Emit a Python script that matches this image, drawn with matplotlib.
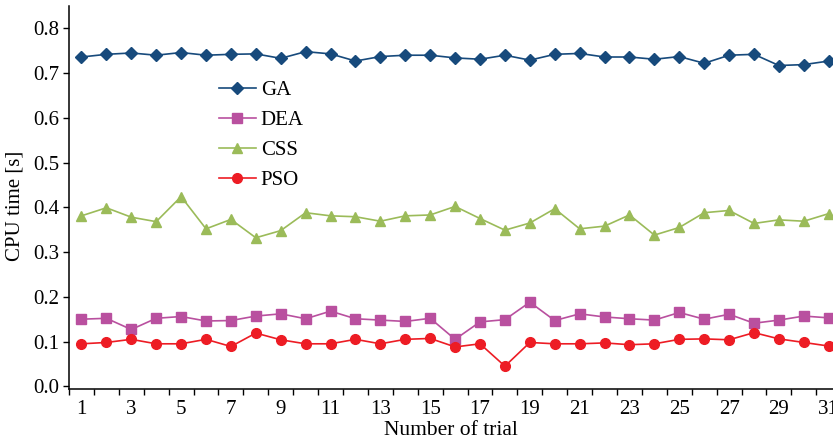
import matplotlib.pyplot as plt
from matplotlib.ticker import FixedLocator, NullFormatter

plt.rcParams["font.family"] = ["Liberation Serif", "DejaVu Serif"]

trials = list(range(1, 32))

ga = [0.736, 0.742, 0.745, 0.740, 0.746, 0.740, 0.742, 0.743, 0.733, 0.748,
      0.743, 0.727, 0.737, 0.740, 0.740, 0.734, 0.731, 0.740, 0.729, 0.742,
      0.744, 0.736, 0.736, 0.731, 0.737, 0.722, 0.740, 0.742, 0.717, 0.719,
      0.727]
dea = [0.150, 0.152, 0.127, 0.152, 0.156, 0.146, 0.147, 0.157, 0.162, 0.151,
       0.168, 0.151, 0.148, 0.145, 0.152, 0.105, 0.144, 0.149, 0.188, 0.147,
       0.162, 0.155, 0.151, 0.148, 0.165, 0.150, 0.161, 0.141, 0.148, 0.157,
       0.153]
css = [0.381, 0.399, 0.378, 0.368, 0.424, 0.352, 0.373, 0.332, 0.348, 0.388,
       0.381, 0.379, 0.369, 0.381, 0.383, 0.402, 0.375, 0.349, 0.365, 0.397,
       0.352, 0.358, 0.383, 0.338, 0.355, 0.388, 0.393, 0.364, 0.372, 0.369,
       0.386]
pso = [0.095, 0.098, 0.105, 0.095, 0.095, 0.105, 0.089, 0.119, 0.104, 0.095,
       0.095, 0.105, 0.095, 0.105, 0.107, 0.088, 0.095, 0.045, 0.098, 0.095,
       0.095, 0.097, 0.093, 0.095, 0.105, 0.106, 0.104, 0.120, 0.106, 0.098,
       0.090]

series = [
    ("GA", ga, "#174a7c", "D", 6.5),
    ("DEA", dea, "#b9509f", "s", 6.5),
    ("CSS", css, "#9bbb59", "^", 7.5),
    ("PSO", pso, "#ed1c24", "o", 7),
]

fig = plt.figure(figsize=(8.33, 4.4), dpi=100)
ax = fig.add_axes([69 / 833, 1 - 389 / 440, 764 / 833, 383 / 440])

for name, values, color, marker, ms in series:
    ax.plot(trials, values, color=color, marker=marker, markersize=ms,
            linewidth=1.2, label=name)

ax.set_xlim(0.5, 31.17)
ax.set_ylim(-0.006, 0.85)

ax.xaxis.set_major_locator(FixedLocator(list(range(1, 32, 2))))
ax.xaxis.set_minor_locator(FixedLocator([t + 0.5 for t in range(0, 31)]))
ax.xaxis.set_minor_formatter(NullFormatter())
ax.tick_params(axis="x", which="major", length=0, labelsize=15, pad=8)
ax.tick_params(axis="x", which="minor", length=4, width=1, direction="out")
ax.set_yticks([0.0, 0.1, 0.2, 0.3, 0.4, 0.5, 0.6, 0.7, 0.8])
ax.set_yticklabels(["0.0", "0.1", "0.2", "0.3", "0.4", "0.5", "0.6", "0.7", "0.8"])
ax.tick_params(axis="y", length=4, width=1, direction="out", labelsize=15,
               pad=3)

for side in ["top", "right"]:
    ax.spines[side].set_visible(False)
for side in ["left", "bottom"]:
    ax.spines[side].set_linewidth(1.1)

ax.set_xlabel("Number of trial", fontsize=15.5, labelpad=1)
ax.set_ylabel("CPU time [s]", fontsize=15)
ax.yaxis.set_label_coords(-0.058, 0.478)

ax.legend(loc="upper left", bbox_to_anchor=(0.172, 0.855), frameon=False,
          fontsize=15, handlelength=1.75, labelspacing=0.5, handletextpad=0.25)

fig.savefig("out.png", dpi=100)
